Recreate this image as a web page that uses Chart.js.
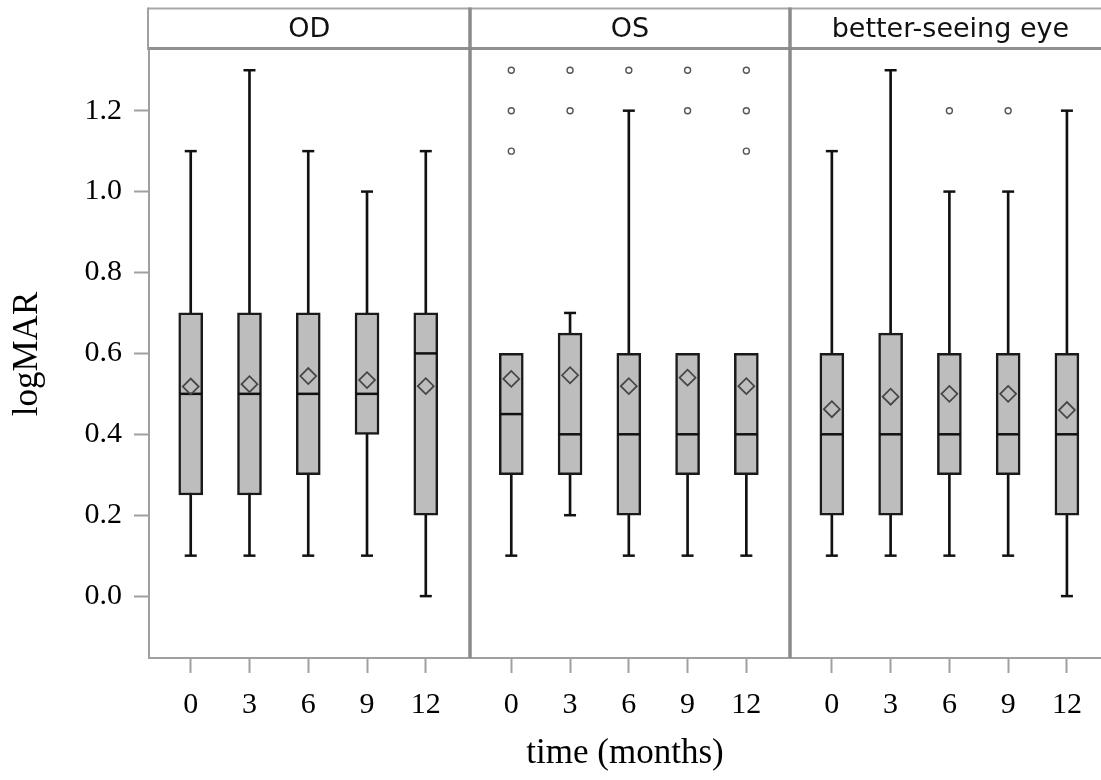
<!DOCTYPE html>
<html>
<head>
<meta charset="utf-8">
<script src="https://cdn.jsdelivr.net/npm/chart.js@4.4.1/dist/chart.umd.min.js"></script>
<style>
  html, body { margin: 0; padding: 0; background: #fff; overflow: hidden; }
  canvas { display: block; }
</style>
</head>
<body>
<canvas id="chart" width="1101" height="780"></canvas>
<script>
// Panels and time points
const panelNames = ['OD', 'OS', 'better-seeing eye'];
const timeLabels = ['0', '3', '6', '9', '12'];
const yTickValues = [0, 0.2, 0.4, 0.6, 0.8, 1.0, 1.2];

// OD
const odLow     = [0.1, 0.1, 0.1, 0.1, 0.0];
const odQ1      = [0.25, 0.25, 0.3, 0.4, 0.2];
const odMedian  = [0.5, 0.5, 0.5, 0.5, 0.6];
const odQ3      = [0.7, 0.7, 0.7, 0.7, 0.7];
const odHigh    = [1.1, 1.3, 1.1, 1.0, 1.1];
const odMean    = [0.518, 0.524, 0.544, 0.534, 0.519];
const odOutliers = [[], [], [], [], []];

// OS
const osLow     = [0.1, 0.2, 0.1, 0.1, 0.1];
const osQ1      = [0.3, 0.3, 0.2, 0.3, 0.3];
const osMedian  = [0.45, 0.4, 0.4, 0.4, 0.4];
const osQ3      = [0.6, 0.65, 0.6, 0.6, 0.6];
const osHigh    = [0.6, 0.7, 1.2, 0.6, 0.6];
const osMean    = [0.537, 0.546, 0.519, 0.54, 0.519];
const osOutliers = [[1.1, 1.2, 1.3], [1.2, 1.3], [1.3], [1.2, 1.3], [1.1, 1.2, 1.3]];

// better-seeing eye
const bseLow    = [0.1, 0.1, 0.1, 0.1, 0.0];
const bseQ1     = [0.2, 0.2, 0.3, 0.3, 0.2];
const bseMedian = [0.4, 0.4, 0.4, 0.4, 0.4];
const bseQ3     = [0.6, 0.65, 0.6, 0.6, 0.6];
const bseHigh   = [1.1, 1.3, 1.0, 1.0, 1.2];
const bseMean   = [0.462, 0.493, 0.5, 0.5, 0.46];
const bseOutliers = [[], [], [1.2], [1.2], []];

const panelStats = [
  { low: odLow, q1: odQ1, med: odMedian, q3: odQ3, high: odHigh, mean: odMean, out: odOutliers },
  { low: osLow, q1: osQ1, med: osMedian, q3: osQ3, high: osHigh, mean: osMean, out: osOutliers },
  { low: bseLow, q1: bseQ1, med: bseMedian, q3: bseQ3, high: bseHigh, mean: bseMean, out: bseOutliers }
];

// Panel layout along the shared linear x axis
const PANEL_STEP = 5.455;   // x units from one panel to the next
const PANEL_PAD = 0.71;     // x units between a panel edge and its first box
const X_MIN = -PANEL_PAD;
const X_MAX = 15.49;
const Y_MIN = -0.153;
const Y_MAX = 1.35;

const xAt = (p, i) => p * PANEL_STEP + i;

const whiskerData = [], capData = [], boxData = [], medianData = [], meanData = [], outlierData = [];
const xTickPositions = [];
panelStats.forEach((s, p) => {
  timeLabels.forEach((t, i) => {
    const x = xAt(p, i);
    xTickPositions.push(x);
    whiskerData.push({ x, y: [s.low[i], s.high[i]] });
    if (s.low[i] < s.q1[i]) capData.push({ x, y: s.low[i] });
    if (s.high[i] > s.q3[i]) capData.push({ x, y: s.high[i] });
    boxData.push({ x, y: [s.q1[i], s.q3[i]] });
    medianData.push({ x, y: s.med[i] });
    meanData.push({ x, y: s.mean[i] });
    s.out[i].forEach(v => outlierData.push({ x, y: v }));
  });
});

const serif = "'Liberation Serif', 'Times New Roman', serif";
const axisGray = '#a0a0a0';

// Facet strips and the vertical dividers between panels
const panelStrips = {
  id: 'panelStrips',
  afterDraw(chart) {
    const { ctx, chartArea, scales: { x } } = chart;
    const stripTop = 8.5;
    const stripBottom = chartArea.top - 1.5;
    ctx.save();
    ctx.lineCap = 'butt';

    // top edge of the strip row
    ctx.strokeStyle = '#a8a8a8';
    ctx.lineWidth = 2;
    ctx.beginPath();
    ctx.moveTo(chartArea.left - 1, stripTop);
    ctx.lineTo(chartArea.right, stripTop);
    ctx.stroke();

    // bottom edge of the strip row
    ctx.strokeStyle = '#909090';
    ctx.lineWidth = 3;
    ctx.beginPath();
    ctx.moveTo(chartArea.left - 1, stripBottom);
    ctx.lineTo(chartArea.right, stripBottom);
    ctx.stroke();

    // left edge of the strip row
    ctx.strokeStyle = axisGray;
    ctx.lineWidth = 2;
    ctx.beginPath();
    ctx.moveTo(chartArea.left - 1, stripTop - 1);
    ctx.lineTo(chartArea.left - 1, chartArea.top);
    ctx.stroke();

    // dividers between panels
    ctx.strokeStyle = '#8a8a8a';
    ctx.lineWidth = 3.5;
    for (let p = 1; p < panelNames.length; p++) {
      const px = Math.round(x.getPixelForValue(p * PANEL_STEP - PANEL_PAD));
      ctx.beginPath();
      ctx.moveTo(px, stripTop - 1);
      ctx.lineTo(px, chartArea.bottom);
      ctx.stroke();
    }

    // strip titles
    ctx.fillStyle = '#111';
    ctx.font = "27px 'DejaVu Sans', sans-serif";
    ctx.textAlign = 'center';
    ctx.textBaseline = 'middle';
    panelNames.forEach((name, p) => {
      const l = x.getPixelForValue(p * PANEL_STEP - PANEL_PAD);
      const r = x.getPixelForValue(p * PANEL_STEP + 4 + PANEL_PAD + 0.035);
      ctx.fillText(name, (l + r) / 2, (stripTop + stripBottom) / 2 + 1);
    });
    ctx.restore();
  }
};

new Chart(document.getElementById('chart'), {
  type: 'bar',
  data: {
    datasets: [
      {
        type: 'bar', label: 'whisker', data: whiskerData,
        backgroundColor: '#111', borderWidth: 0, barThickness: 2,
        grouped: false, order: 6
      },
      {
        type: 'scatter', label: 'cap', data: capData,
        pointStyle: 'line', pointRadius: 6, borderColor: '#111', borderWidth: 2.5,
        order: 5
      },
      {
        type: 'bar', label: 'box', data: boxData,
        backgroundColor: '#bdbdbd', borderColor: '#1a1a1a', borderWidth: 2.5,
        borderSkipped: false, barThickness: 24, grouped: false, order: 4
      },
      {
        type: 'scatter', label: 'median', data: medianData,
        pointStyle: 'line', pointRadius: 11.5, borderColor: '#111', borderWidth: 2.5,
        order: 3
      },
      {
        type: 'scatter', label: 'mean', data: meanData,
        pointStyle: 'rectRot', pointRadius: 8, borderColor: '#444', borderWidth: 1.7,
        backgroundColor: 'rgba(0,0,0,0)', order: 2
      },
      {
        type: 'scatter', label: 'outlier', data: outlierData,
        pointStyle: 'circle', pointRadius: 3, borderColor: '#555', borderWidth: 1.4,
        backgroundColor: '#fff', order: 1
      }
    ]
  },
  options: {
    responsive: false,
    animation: false,
    events: [],
    devicePixelRatio: 1,
    layout: { autoPadding: false, padding: { top: 50, right: 0, bottom: 0, left: 0 } },
    plugins: { legend: { display: false }, tooltip: { enabled: false } },
    scales: {
      x: {
        type: 'linear',
        min: X_MIN,
        max: X_MAX,
        offset: false,
        afterBuildTicks: s => { s.ticks = xTickPositions.map(v => ({ value: v })); },
        afterFit: s => { s.height = 122; },
        ticks: {
          autoSkip: false, maxRotation: 0, minRotation: 0, padding: 14,
          color: '#000', font: { family: serif, size: 30 },
          callback: (v, i) => timeLabels[i % timeLabels.length]
        },
        grid: { offset: false, drawOnChartArea: false, drawTicks: true, tickLength: 15, tickColor: axisGray, tickWidth: 2 },
        border: { display: true, color: axisGray, width: 2 },
        title: {
          display: true, text: 'time (months)', color: '#000',
          font: { family: serif, size: 35 }, padding: { top: 0, bottom: 5 }
        }
      },
      y: {
        type: 'linear',
        min: Y_MIN,
        max: Y_MAX,
        afterBuildTicks: s => { s.ticks = yTickValues.map(v => ({ value: v })); },
        afterFit: s => { s.width = 149; },
        ticks: {
          padding: 12, color: '#000', font: { family: serif, size: 30 },
          callback: v => Number(v).toFixed(1)
        },
        grid: { offset: false, drawOnChartArea: false, drawTicks: true, tickLength: 15, tickColor: axisGray, tickWidth: 2 },
        border: { display: true, color: axisGray, width: 2 },
        title: {
          display: true, text: 'logMAR', color: '#000',
          font: { family: serif, size: 35 }, padding: { top: 7, bottom: 0 }
        }
      }
    }
  },
  plugins: [panelStrips]
});
</script>
</body>
</html>
